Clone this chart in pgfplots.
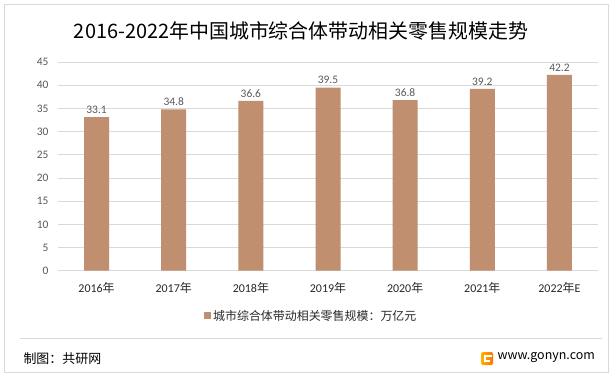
\documentclass[border=0pt]{standalone}
\usepackage{fontspec}
\setmainfont{Carlito}
\newfontfamily\cjk{Noto Sans CJK SC}
\usepackage{pgfplots}
\pgfplotsset{compat=1.18}
\definecolor{barc}{RGB}{191,143,111}
\definecolor{gridc}{RGB}{217,217,217}
\definecolor{tickc}{RGB}{89,89,89}
\definecolor{xlab}{RGB}{40,40,40}
\begin{document}
\begin{tikzpicture}[x=1bp,y=1bp]
\useasboundingbox (0,0) rectangle (615,374);
\fill[white] (0,0) rectangle (615,374);
\draw[gridc,line width=0.8bp] (4,2) rectangle (608,370);
\node[text=black] at (301,343) {\cjk\fontsize{20}{20}\selectfont 2016-2022年中国城市综合体带动相关零售规模走势};
\begin{axis}[
  at={(58bp,103.3bp)}, anchor=south west,
  scale only axis, width=540bp, height=208.7bp,
  xmin=-0.5, xmax=6.5, ymin=0, ymax=45,
  ytick={0,5,...,45},
  xtick=data,
  xticklabels={2016{\cjk 年},2017{\cjk 年},2018{\cjk 年},2019{\cjk 年},2020{\cjk 年},2021{\cjk 年},2022{\cjk 年}E},
  ymajorgrids, grid style={gridc, line width=0.8bp},
  axis line style={draw=none},
  major tick length=0pt,
  yticklabel style={font=\fontsize{11.5}{11.5}\selectfont, text=tickc, xshift=-6bp},
  xticklabel style={font=\fontsize{12}{12}\selectfont, text=xlab, yshift=-8bp},
  /pgf/number format/assume math mode=true,
  ybar, bar width=25bp,
  nodes near coords,
  nodes near coords style={font=\fontsize{11.5}{11.5}\selectfont, text=tickc, /pgf/number format/.cd, fixed, precision=1, fixed zerofill, assume math mode=true},
  legend style={at={(0.469,-0.217)}, anchor=center, draw=none, fill=none, font=\cjk\fontsize{12}{12}\selectfont, text=xlab},
  legend image code/.code={\fill[barc] (0bp,-3.5bp) rectangle (7bp,3.5bp);},
]
\addplot[fill=barc, draw=none] coordinates {(0,33.1) (1,34.8) (2,36.6) (3,39.5) (4,36.8) (5,39.2) (6,42.2)};
\addlegendentry{城市综合体带动相关零售规模：万亿元}
\end{axis}
\draw[gridc,line width=0.8bp] (20,36) -- (602,36);
\node[anchor=west, text=black] at (20,15) {\cjk\fontsize{13}{13}\selectfont 制图：共研网};
\shade[left color=orange!60!yellow, right color=orange!90!red, rounded corners=1.5bp] (481,9) rectangle (493,22);
\fill[white] (484,12) rectangle (490,14);
\fill[white] (484,17) rectangle (492,19);
\fill[white] (484,12) rectangle (486,19);
\node[anchor=west, text=black] at (494,16) {\cjk\fontsize{12.5}{12.5}\selectfont www.gonyn.com};
\end{tikzpicture}
\end{document}
